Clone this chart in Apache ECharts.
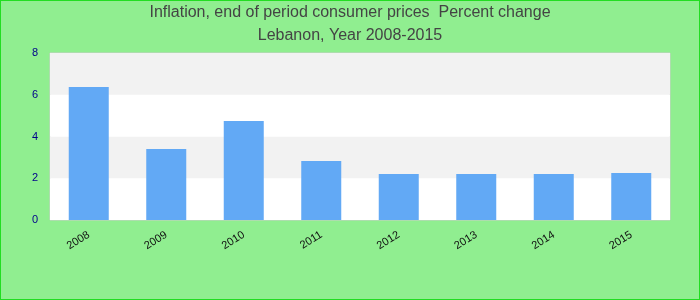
<!DOCTYPE html>
<html>
<head>
<meta charset="utf-8">
<script src="https://cdn.jsdelivr.net/npm/echarts@6/dist/echarts.min.js"></script>
<style>
  html, body { margin: 0; padding: 0; }
  #mainChart { width: 700px; height: 300px; }
</style>
</head>
<body>
<div id="mainChart"></div>
<script>
// data
var years = ['2008', '2009', '2010', '2011', '2012', '2013', '2014', '2015'];
var inflation = [6.37, 3.40, 4.74, 2.83, 2.20, 2.20, 2.20, 2.25];
var yTicks = [0, 2, 4, 6, 8];

var myChart = echarts.init(document.getElementById('mainChart'));

myChart.setOption({
    backgroundColor: '#90ee90',
    animation: false,
    title: {
        text: 'Inflation, end of period consumer prices  Percent change\nLebanon, Year 2008-2015',
        left: 'center',
        top: 1,
        padding: 0,
        textStyle: {
            fontFamily: 'Liberation Sans',
            fontWeight: 'normal',
            fontSize: 16,
            color: '#444444',
            lineHeight: 23
        }
    },
    graphic: [{
        type: 'rect',
        shape: {x: 0, y: 0, width: 700, height: 300},
        style: {fill: 'none', stroke: '#22dd22', lineWidth: 2},
        silent: true
    }],
    grid: {
        left: 50,
        right: 30,
        top: 53,
        bottom: 80,
        show: true,
        borderColor: '#cccccc',
        borderWidth: 1,
        backgroundColor: '#ffffff'
    },
    xAxis: {
        type: 'category',
        data: years,
        axisLine: {show: false},
        axisTick: {show: false},
        axisLabel: {
            rotate: 32,
            margin: 14,
            fontFamily: 'Liberation Sans',
            fontSize: 11,
            color: '#111111'
        }
    },
    yAxis: {
        type: 'value',
        min: yTicks[0],
        max: yTicks[yTicks.length - 1],
        interval: 2,
        axisLine: {show: false},
        axisTick: {show: false},
        splitLine: {show: false},
        splitArea: {
            show: true,
            areaStyle: {color: ['#ffffff', '#f2f2f2']}
        },
        axisLabel: {
            margin: 12,
            fontFamily: 'Liberation Sans',
            fontSize: 11,
            color: '#00008b'
        }
    },
    series: [{
        type: 'bar',
        data: inflation,
        barWidth: 40,
        itemStyle: {color: '#62a9f5'}
    }]
});
</script>
</body>
</html>
